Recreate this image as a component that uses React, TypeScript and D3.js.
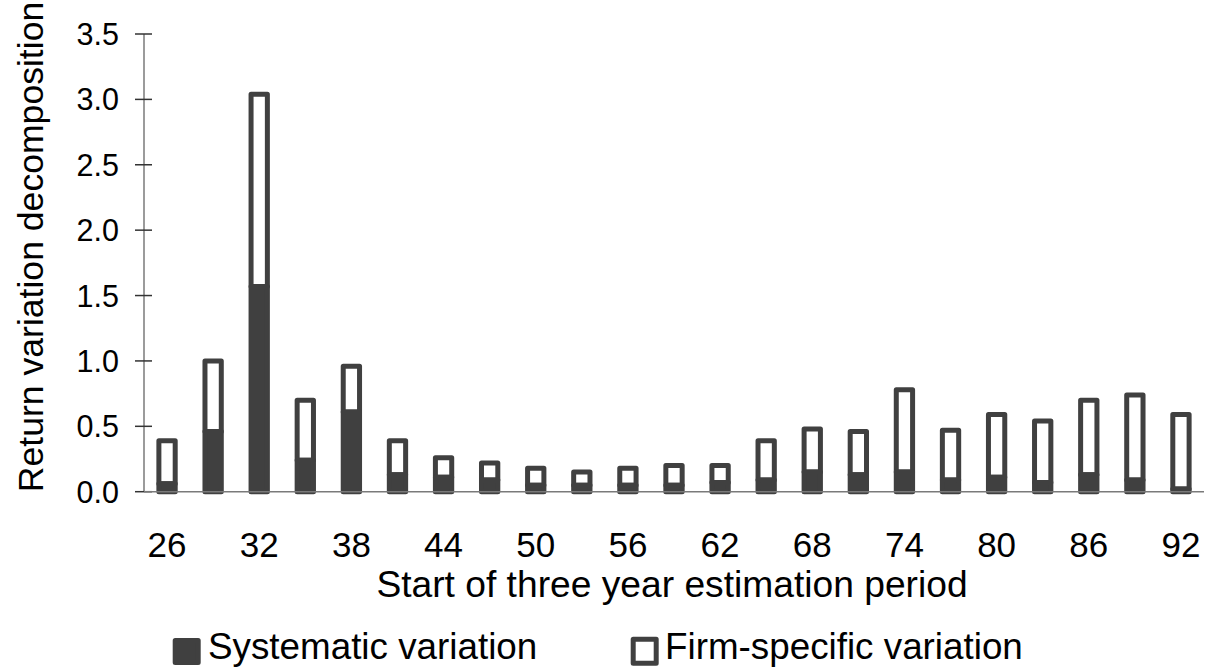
import React from "react";
import * as d3 from "d3";

const years = ["26","29","32","35","38","41","44","47","50","53","56","59","62","65","68","71","74","77","80","83","86","89","92"];
const systematic = [0.06,0.46,1.57,0.24,0.61,0.13,0.11,0.09,0.05,0.05,0.05,0.05,0.07,0.09,0.15,0.13,0.15,0.09,0.11,0.07,0.13,0.09,0.02];
const firmSpecific = [0.33,0.54,1.47,0.46,0.35,0.26,0.15,0.13,0.13,0.10,0.13,0.15,0.13,0.30,0.33,0.33,0.63,0.38,0.48,0.47,0.57,0.65,0.57];
const xTickLabels = ["26","32","38","44","50","56","62","68","74","80","86","92"];
const yTicks = [0,0.5,1.0,1.5,2.0,2.5,3.0,3.5];
const seriesNames = ["Systematic variation","Firm-specific variation"];

const W = 1208, H = 670;
const FONT = "'Liberation Sans', Arial, Helvetica, sans-serif";
const DARK = "#404040";

export default function App() {
  const x = d3.scaleBand<string>().domain(years).range([144, 1204]).padding(0);
  const y = d3.scaleLinear().domain([0, 3.5]).range([491.7, 34]);
  const bw = x.bandwidth() * 0.354;
  return (
    <svg width={W} height={H} style={{ position: "absolute", left: 0, top: 0 }} fontFamily={FONT}>
      <rect width={W} height={H} fill="#fff" />
      {/* y axis */}
      <line x1={144} x2={144} y1={y(3.5)} y2={y(0)} stroke="#7a7a7a" strokeWidth={1.5} />
      {yTicks.map((t) => (
        <g key={t}>
          <line x1={135} x2={152} y1={y(t)} y2={y(t)} stroke="#333" strokeWidth={1.5} />
          <text x={119} y={y(t)} textAnchor="end" dominantBaseline="central" fontSize={30.5} fill="#000">
            {d3.format(".1f")(t)}
          </text>
        </g>
      ))}
      {/* bars */}
      {years.map((yr, i) => {
        const cx = (x(yr) as number) + x.bandwidth() / 2;
        const s = systematic[i];
        const f = firmSpecific[i];
        return (
          <g key={yr}>
            <rect x={cx - bw / 2} y={y(s + f)} width={bw} height={y(s) - y(s + f)}
              fill="#fff" stroke={DARK} strokeWidth={5} strokeLinejoin="round" />
            <rect x={cx - bw / 2} y={y(s)} width={bw} height={y(0) - y(s)}
              fill={DARK} stroke={DARK} strokeWidth={5} strokeLinejoin="round" />
          </g>
        );
      })}
      {/* x axis */}
      <line x1={144} x2={1204} y1={y(0)} y2={y(0)} stroke="#7a7a7a" strokeWidth={1.5} />
      {xTickLabels.map((l) => (
        <text key={l} x={(x(l) as number) + x.bandwidth() / 2} y={557} textAnchor="middle" fontSize={35} fill="#000">
          {l}
        </text>
      ))}
      <text x={672} y={597} textAnchor="middle" fontSize={37.2} fill="#000">
        Start of three year estimation period
      </text>
      <text transform="translate(43,247) rotate(-90)" textAnchor="middle" fontSize={35.6} fill="#000">
        Return variation decomposition
      </text>
      {/* legend */}
      <rect x={175.2} y={640.5} width={23} height={22} fill={DARK} stroke={DARK} strokeWidth={5} strokeLinejoin="round" />
      <text x={208} y={659} fontSize={36.8} fill="#000">{seriesNames[0]}</text>
      <rect x={633.2} y={639.2} width={23} height={24} fill="#fff" stroke={DARK} strokeWidth={5} strokeLinejoin="round" />
      <text x={665} y={659} fontSize={36.8} fill="#000">{seriesNames[1]}</text>
    </svg>
  );
}
